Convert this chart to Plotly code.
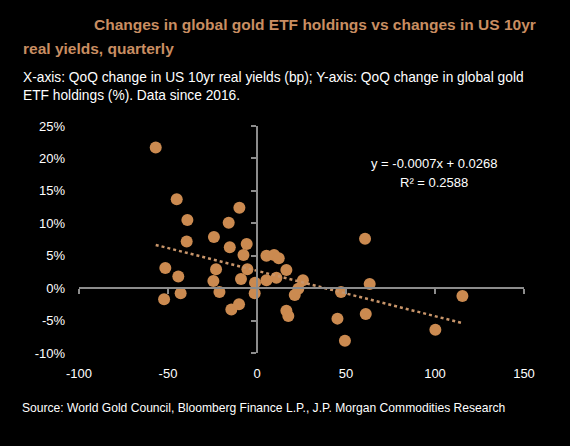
import plotly.graph_objects as go

# QoQ change in US 10yr real yields (bp)
yield_change_bp = [-56.9, -45.1, -39.1, -39.5, -51.5, -44.2, -52.2, -42.9,
                   -9.9, -15.9, -24.2, -15.3, -5.8, -7.6, -23.0, -5.4,
                   -24.5, -9.0, -21.1, -1.1, -1.3, -14.4, -10.1,
                   5.3, 9.6, 12.2, 16.5, 5.3, 10.9, 25.8, 23.2, 21.2, 16.5, 17.6,
                   47.2, 60.7, 63.3, 45.2, 61.1, 49.4, 100.2, 115.4]
# QoQ change in global gold ETF holdings (%)
etf_change_pct = [21.7, 13.7, 10.5, 7.2, 3.1, 1.8, -1.7, -0.8,
                  12.4, 10.1, 7.9, 6.3, 6.8, 5.1, 2.9, 2.9,
                  1.1, 1.4, -0.6, 0.85, -0.8, -3.3, -2.5,
                  5.0, 5.1, 4.6, 2.8, 1.2, 1.6, 1.2, -0.1, -1.05, -3.5, -4.3,
                  -0.6, 7.6, 0.65, -4.7, -4.0, -8.1, -6.4, -1.2]

# Linear fit as displayed on the chart (y in fraction, x in bp)
fit_slope = -0.0007
fit_intercept = 0.0268
fit_r2 = 0.2588

x_ticks = [-100, -50, 0, 50, 100, 150]
x_ticktext = ["-100", "-50", "0", "50", "100", "150"]
y_ticks = [-10, -5, 0, 5, 10, 15, 20, 25]
y_ticktext = ["-10%", "-5%", "0%", "5%", "10%", "15%", "20%", "25%"]

FONT = "Arial, Liberation Sans, sans-serif"
DOT = "#CB8A50"
TITLE_C = "#C98E62"
AXIS_C = "#8C8C8C"

x_min, x_max = min(yield_change_bp), max(yield_change_bp)
trend_x = [x_min, x_max]
trend_y = [(fit_slope * v + fit_intercept) * 100 for v in trend_x]

fig = go.Figure()
fig.add_trace(go.Scatter(x=yield_change_bp, y=etf_change_pct, mode="markers",
                         marker=dict(color=DOT, size=12, line=dict(width=0)),
                         showlegend=False))
fig.add_trace(go.Scatter(x=trend_x, y=trend_y, mode="lines",
                         line=dict(color="#C8956A", width=2.5, dash="dot"),
                         showlegend=False, hoverinfo="skip"))
# carrier trace for the crossing axes
fig.add_trace(go.Scatter(x=[None], y=[None], xaxis="x2", yaxis="y2",
                         showlegend=False, hoverinfo="skip"))

xr = [x_ticks[0], x_ticks[-1]]
yr = [y_ticks[0], y_ticks[-1]]

fig.update_layout(
    width=570, height=446,
    paper_bgcolor="black", plot_bgcolor="black",
    margin=dict(l=79, r=46, t=126, b=93),
    font=dict(family=FONT, color="white", size=13),
    xaxis=dict(range=xr, tickvals=x_ticks, ticktext=x_ticktext, showgrid=False,
               zeroline=False, showline=False, ticks="",
               tickfont=dict(size=13, color="white"), ticklabelstandoff=11),
    yaxis=dict(range=yr, tickvals=y_ticks, ticktext=y_ticktext, showgrid=False,
               zeroline=False, showline=False, ticks="",
               tickfont=dict(size=13, color="white"), ticklabelstandoff=13,
               domain=[0, 1]),
    xaxis2=dict(range=xr, tickvals=x_ticks, overlaying="x", anchor="free",
                position=(0 - yr[0]) / (yr[1] - yr[0]), showgrid=False,
                zeroline=False, showline=True, linecolor=AXIS_C, linewidth=1.5,
                ticks="outside", ticklen=5, tickcolor=AXIS_C, tickwidth=1.5,
                showticklabels=False),
    yaxis2=dict(range=yr, tickvals=y_ticks, overlaying="y", anchor="free",
                position=(0 - xr[0]) / (xr[1] - xr[0]), side="left",
                showgrid=False, zeroline=False, showline=True, linecolor=AXIS_C,
                linewidth=1.5, ticks="outside", ticklen=5, tickcolor=AXIS_C,
                tickwidth=1.5, showticklabels=False),
)

def px_x(p):
    return (p - 79) / 445

def px_y(p):
    return (353 - p) / 227

ann = []
ann.append(dict(text="<b>Changes in global gold ETF holdings vs changes in US 10yr</b>",
                xref="paper", yref="paper", x=px_x(92), y=px_y(24),
                xanchor="left", yanchor="middle", showarrow=False,
                font=dict(size=15.5, color=TITLE_C, family=FONT)))
ann.append(dict(text="<b>real yields, quarterly</b>",
                xref="paper", yref="paper", x=px_x(21), y=px_y(48),
                xanchor="left", yanchor="middle", showarrow=False,
                font=dict(size=15.5, color=TITLE_C, family=FONT)))
ann.append(dict(text="X-axis: QoQ change in US 10yr real yields (bp); Y-axis: QoQ change in global gold",
                xref="paper", yref="paper", x=px_x(21), y=px_y(77),
                xanchor="left", yanchor="middle", showarrow=False,
                font=dict(size=13.75, color="white", family=FONT)))
ann.append(dict(text="ETF holdings (%). Data since 2016.",
                xref="paper", yref="paper", x=px_x(21), y=px_y(95),
                xanchor="left", yanchor="middle", showarrow=False,
                font=dict(size=13.75, color="white", family=FONT)))
ann.append(dict(text="Source: World Gold Council, Bloomberg Finance L.P., J.P. Morgan Commodities Research",
                xref="paper", yref="paper", x=px_x(20), y=px_y(408),
                xanchor="left", yanchor="middle", showarrow=False,
                font=dict(size=12.1, color="white", family=FONT)))
ann.append(dict(text=f"y = {fit_slope:.4f}x + {fit_intercept:.4f}",
                xref="paper", yref="paper", x=px_x(434), y=px_y(163),
                xanchor="center", yanchor="middle", showarrow=False,
                font=dict(size=13, color="white", family=FONT)))
ann.append(dict(text=f"R² = {fit_r2:.4f}",
                xref="paper", yref="paper", x=px_x(434), y=px_y(182),
                xanchor="center", yanchor="middle", showarrow=False,
                font=dict(size=13, color="white", family=FONT)))
fig.update_layout(annotations=ann)

fig.write_html("out.html")
